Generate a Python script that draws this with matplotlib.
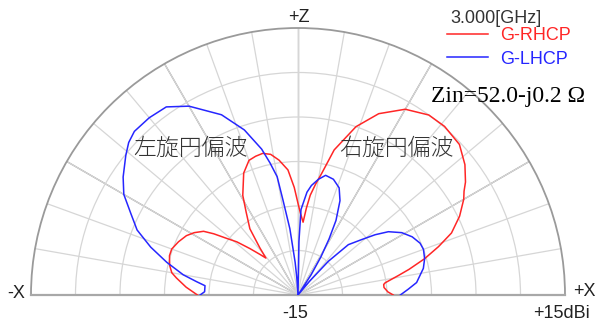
import numpy as np
import matplotlib
matplotlib.use("Agg")
import matplotlib.pyplot as plt
from matplotlib.lines import Line2D

# XZ-plane radiation pattern at 3 GHz, angle measured from +X toward +Z [deg], gain [dBi]
angle_rhcp = [0, 2, 5, 7, 8, 11, 13, 16, 19, 22, 26, 30, 32, 34, 38, 43, 49, 54, 60,
              66, 71, 76, 79, 81, 83, 84.5, 86, 88.3, 90, 92, 94.6, 98, 101, 104, 107,
              110, 114, 119, 122, 126, 129, 131, 133, 136, 139, 141.5, 144, 146, 149,
              152, 156, 160, 163, 167, 170, 172, 176, 180]
gain_rhcp = [-4.3, -4.9, -5.3, -5.3, -5.1, -3.5, -2.2, -0.2, 1.7, 3.6, 5.2, 6.5, 7.0, 7.7,
             8.8, 9.8, 10.1, 10.0, 9.1, 7.3, 5.0, 1.8, -1.1, -2.4, -3.7, -5.2, -6.8,
             -5.8, -4.7, -2.9, -0.9, 0.3, 1.1, 1.4, 1.3, 1.1, 0.0, -2.2, -4.0, -5.8,
             -8.2, -9.5, -8.8, -7.5, -5.9, -4.8, -3.3, -2.2, -1.4, -0.8, -0.3, 0.1,
             0.1, -0.2, -0.6, -1.2, -2.4, -3.7]

angle_lhcp = [0, 3, 6, 8, 12, 16, 20, 23, 27, 31, 35, 38, 41, 45, 48, 50, 52, 55, 57, 59,
              61, 63, 66, 69, 73, 77, 80, 83, 85, 88, 89, 90, 92, 94, 95, 97, 99, 100,
              102, 104, 108, 113, 120, 125, 130, 135, 138, 141, 146, 150, 154, 158,
              162, 166, 170, 172.5, 174.3, 178, 180]
gain_lhcp = [-3.5, -2.6, -1.6, -1.3, -0.6, -0.2, 0.0, -0.1, -0.6, -1.4, -2.6, -4.0, -5.5,
             -7.0, -9.9, -13.0, -15.0, -15.0, -12.3, -10.0, -7.8, -5.6, -3.4, -2.1,
             -1.4, -1.2, -1.8, -2.6, -3.4, -5.4, -9.0, -15.0, -15.0, -13.0, -11.3, -7.5,
             -4.2, -1.5, 0.2, 1.9, 4.5, 7.0, 9.5, 10.8, 11.0, 11.0, 10.6, 9.9, 8.7, 7.6,
             5.9, 4.5, 2.4, 0.2, -1.9, -3.5, -4.5, -4.5, -4.0]

r_min, r_max = -15, 15
ring_levels = [-10, -5, 0, 5, 10]
fine_spokes = range(10, 180, 10)
main_spokes = [30, 60, 90, 120, 150]

W, H = 596, 329
fig = plt.figure(figsize=(W / 100, H / 100), dpi=100)

# half-polar axes: pole at (298, 295) px from top-left, radius 267 px.
# the polar axes keeps a square box and centres the half disc inside it
cx, cy, R = 298, 295, 267
box_top = cy - R / 2 - R
ax = fig.add_axes([(cx - R) / W, (H - box_top - 2 * R) / H, 2 * R / W, 2 * R / H],
                  projection="polar")
ax.set_thetamin(0)
ax.set_thetamax(180)
ax.set_rlim(r_min, r_max)
ax.set_xticks(np.deg2rad(list(fine_spokes)))
ax.set_yticks(ring_levels)
ax.set_xticklabels([])
ax.set_yticklabels([])
ax.grid(True, color="#d6d6d6", linewidth=0.9)
ax.spines["polar"].set_color("#9a9a9a")
ax.spines["polar"].set_linewidth(1.3)
ax.spines["start"].set_color("#a8a8a8")
ax.spines["end"].set_color("#a8a8a8")
ax.spines["start"].set_linewidth(1.6)
ax.spines["end"].set_linewidth(1.6)
ax.spines["inner"].set_visible(False)
ax.patch.set_visible(False)

for a in main_spokes:
    ax.plot([np.deg2rad(a)] * 2, [r_min, r_max], color="#8c8c8c", lw=0.9, zorder=1.5)

ax.plot(np.deg2rad(angle_rhcp), np.clip(gain_rhcp, r_min, r_max), color="#ff2626", lw=1.1, zorder=3)
ax.plot(np.deg2rad(angle_lhcp), np.clip(gain_lhcp, r_min, r_max), color="#2626ff", lw=1.1, zorder=3)


def px(x, y):
    return x / W, 1 - y / H


sans = "Liberation Sans"
lab = dict(fontsize=13, family=sans, color="#222222", ha="center", va="center")
fig.text(*px(299, 17), "+Z", **lab)
fig.text(*px(16, 294), "-X", **lab)
fig.text(*px(584, 292), "+X", **lab)
fig.text(*px(295, 313), "-15", **lab)
fig.text(*px(562, 313), "+15dBi", **lab)

# legend block
fig.text(*px(450, 18.5), "3.000[GHz]", fontsize=13, family=sans, color="#333333", va="center")
fig.add_artist(Line2D([447 / W, 488 / W], [1 - 34 / H] * 2, color="#ff2626", lw=1.1,
                      transform=fig.transFigure))
fig.add_artist(Line2D([447 / W, 488 / W], [1 - 57 / H] * 2, color="#2626ff", lw=1.1,
                      transform=fig.transFigure))
fig.text(*px(500, 36), "G-RHCP", fontsize=13, family=sans, color="#ff2626", va="center")
fig.text(*px(500, 59), "G-LHCP", fontsize=13, family=sans, color="#2626ff", va="center")

fig.text(*px(431, 102), "Zin=52.0-j0.2 Ω", fontsize=17, family="Liberation Serif",
         color="black", va="baseline")

jp = ["Noto Sans CJK JP", "DejaVu Sans"]
fig.text(*px(190.5, 148), "左旋円偏波", fontsize=16.5, family=jp, color="#333333",
         weight="light", ha="center", va="center")
fig.text(*px(396.5, 148), "右旋円偏波", fontsize=16.5, family=jp, color="#333333",
         weight="light", ha="center", va="center")

fig.savefig("out.png", dpi=100)
